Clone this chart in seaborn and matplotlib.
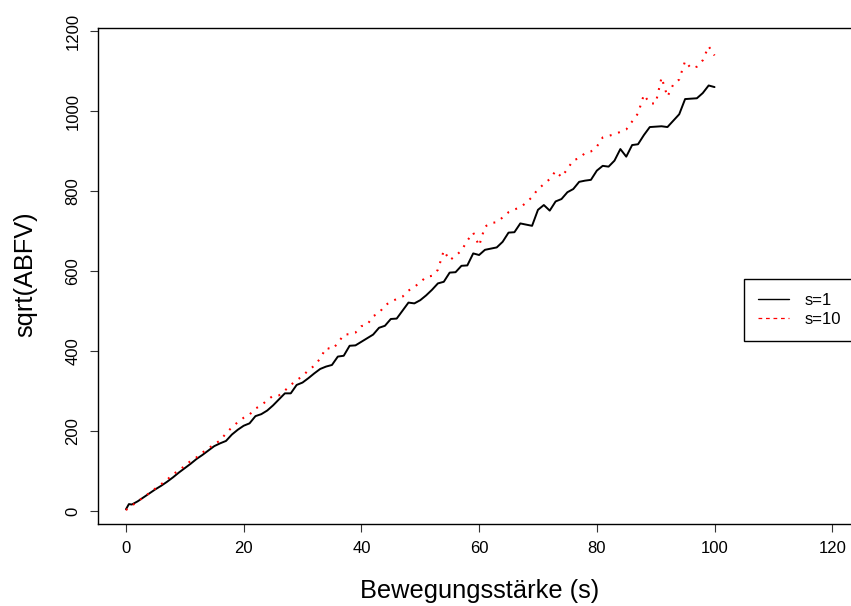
import matplotlib
matplotlib.use("Agg")
import matplotlib.pyplot as plt
import seaborn as sns
import pandas as pd

# ---- data ----
x_vals = [0, 0.5] + list(range(1, 101))

abfv_s1 = [5, 18, 17, 25, 35, 45, 55, 64, 74, 85, 97,
           108, 119, 131, 141, 152, 163, 170, 176, 192, 204,
           214, 220, 238, 243, 252, 265, 280, 295, 295, 316,
           322, 333, 345, 356, 362, 366, 387, 389, 414, 415,
           424, 433, 442, 459, 464, 481, 482, 502, 522, 520,
           528, 540, 554, 570, 574, 597, 598, 614, 615, 645,
           641, 654, 657, 660, 674, 697, 698, 720, 717, 714,
           754, 766, 752, 775, 781, 798, 806, 824, 827, 829,
           852, 864, 862, 877, 906, 887, 916, 918, 941, 961,
           962, 963, 961, 977, 993, 1031, 1032, 1033, 1046, 1065,
           1061]

abfv_s10 = [3, 9, 14, 25, 35, 46, 57, 68, 79, 93, 102,
            114, 126, 135, 147, 157, 168, 177, 195, 210, 223,
            234, 242, 257, 265, 278, 289, 290, 302, 316, 328,
            338, 353, 364, 382, 409, 405, 420, 442, 443, 447,
            463, 467, 488, 496, 515, 524, 531, 537, 552, 561,
            573, 586, 589, 604, 652, 628, 639, 652, 677, 697,
            664, 712, 721, 723, 735, 748, 755, 760, 772, 786,
            806, 818, 831, 851, 836, 856, 878, 883, 896, 900,
            912, 935, 939, 943, 949, 955, 975, 995, 1042, 1020,
            1020, 1085, 1037, 1068, 1080, 1126, 1108, 1112, 1128, 1163,
            1140]

series_labels = ["s=1", "s=10"]
x_ticks = [0, 20, 40, 60, 80, 100, 120]
y_ticks = [0, 200, 400, 600, 800, 1000, 1200]

sns.set_theme(style="ticks")
plt.rcParams["font.family"] = ["Liberation Sans", "DejaVu Sans"]

W, H = 851, 606
fig = plt.figure(figsize=(W / 100, H / 100), dpi=100)
left_px, right_px, top_px, bot_px = 97.7, 860.5, 28.3, 523.5
ax = fig.add_axes([left_px / W, 1 - bot_px / H,
                   (right_px - left_px) / W, (bot_px - top_px) / H])

df1 = pd.DataFrame({"x": x_vals, "y": abfv_s1})
df2 = pd.DataFrame({"x": x_vals, "y": abfv_s10})
sns.lineplot(data=df1, x="x", y="y", ax=ax, color="black", linewidth=1.4,
             estimator=None, sort=False, label=series_labels[0])
sns.lineplot(data=df2, x="x", y="y", ax=ax, color="red", linewidth=1.5,
             estimator=None, sort=False, label=series_labels[1])
ax.lines[1].set_dashes((0.9, 3.3))
ax.lines[1].set_dash_capstyle("butt")

ax.set_xlim(-4.8, 124.8)
ax.set_ylim(-30.5, 1208)
ax.set_xticks(x_ticks)
ax.set_yticks(y_ticks)
ax.set_xticklabels([str(v) for v in x_ticks])
ax.set_yticklabels([str(v) for v in y_ticks])

for s in ax.spines.values():
    s.set_color("black")
    s.set_linewidth(1.0)
    s.set_visible(True)

ax.tick_params(axis="both", direction="out", length=5.5, width=0.8,
               color="#333333", labelsize=12, labelcolor="black")
ax.tick_params(axis="x", pad=7)
ax.tick_params(axis="y", pad=7)
for lab in ax.get_yticklabels():
    lab.set_rotation(90)
    lab.set_va("center")
    lab.set_ha("right")

ax.set_xlabel("Bewegungsstärke (s)", fontsize=18.3, color="black")
ax.set_ylabel("sqrt(ABFV)", fontsize=18.3, color="black")
ax.xaxis.label.set_va("center")
ax.yaxis.label.set_va("center")
ax.yaxis.label.set_ha("center")
ax.xaxis.set_label_coords(((480 - left_px) / (right_px - left_px)),
                          (bot_px - 591) / (bot_px - top_px))
ax.yaxis.set_label_coords((25 - left_px) / (right_px - left_px),
                          (bot_px - 274) / (bot_px - top_px))

handles = ax.lines[:2]
leg = ax.legend(handles, series_labels, loc="upper left",
                bbox_to_anchor=(744 / W, 1 - 279 / H),
                bbox_transform=fig.transFigure, frameon=True, fancybox=False,
                edgecolor="black", framealpha=1, fontsize=12,
                handlelength=1.86, borderpad=0.85, handletextpad=0.9,
                labelspacing=0.2, borderaxespad=0)
leg.get_frame().set_linewidth(1.0)
for t in leg.get_texts():
    t.set_color("black")
leg_lines = leg.get_lines()
leg_lines[0].set_linewidth(1.0)
leg_lines[1].set_linewidth(0.9)
leg_lines[1].set_dashes((3, 3))

fig.savefig("out.png", dpi=100)
